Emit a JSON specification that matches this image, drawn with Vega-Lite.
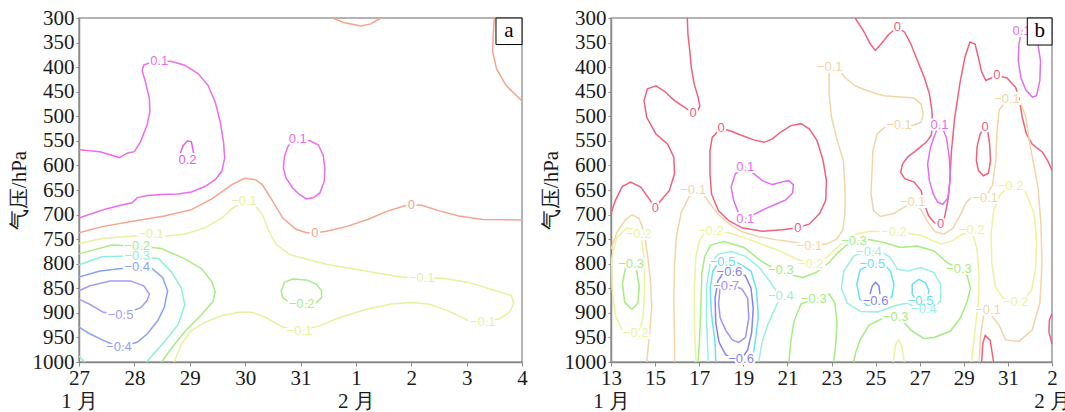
{
"$schema":"https://vega.github.io/schema/vega-lite/v6.json",
"padding":{"left":7,"top":6,"right":0,"bottom":0},
"spacing":11,
"resolve":{"scale":{"color":"independent","x":"independent","y":"independent"}},
"config":{"view":{"stroke":"#9a9a9a","strokeWidth":1.5},"axis":{"grid":false,"domainColor":"#8a8a8a","domainWidth":1.5,"tickColor":"#8a8a8a","labelFont":"Liberation Serif","labelFontSize":21,"labelColor":"#1a1a1a","titleFont":"Liberation Serif","titleFontSize":21,"titleFontWeight":"normal","titleColor":"#1a1a1a","labelFlush":false,"labelOverlap":false,"labelBound":false},"axisY":{"tickCount":15,"labelOverlap":false}},
"datasets":{
"la":[
{"c":"a1","v":"0.1","d":0,"p":568},{"c":"a1","v":"0.1","d":0.38,"p":572},{"c":"a1","v":"0.1","d":0.73,"p":584},{"c":"a1","v":"0.1","d":0.87,"p":575},{"c":"a1","v":"0.1","d":1,"p":572},{"c":"a1","v":"0.1","d":1.11,"p":552},{"c":"a1","v":"0.1","d":1.23,"p":518},{"c":"a1","v":"0.1","d":1.28,"p":491},{"c":"a1","v":"0.1","d":1.27,"p":464},{"c":"a1","v":"0.1","d":1.2,"p":430},{"c":"a1","v":"0.1","d":1.14,"p":407},{"c":"a1","v":"0.1","d":1.17,"p":396},{"c":"a1","v":"0.1","d":1.3,"p":390},{"c":"a1","v":"0.1","d":1.66,"p":388},{"c":"a1","v":"0.1","d":1.91,"p":396},{"c":"a1","v":"0.1","d":2.15,"p":413},{"c":"a1","v":"0.1","d":2.33,"p":437},{"c":"a1","v":"0.1","d":2.46,"p":471},{"c":"a1","v":"0.1","d":2.55,"p":511},{"c":"a1","v":"0.1","d":2.61,"p":552},{"c":"a1","v":"0.1","d":2.63,"p":585},{"c":"a1","v":"0.1","d":2.58,"p":612},{"c":"a1","v":"0.1","d":2.46,"p":629},{"c":"a1","v":"0.1","d":2.27,"p":643},{"c":"a1","v":"0.1","d":2.03,"p":654},{"c":"a1","v":"0.1","d":1.78,"p":658},{"c":"a1","v":"0.1","d":1.48,"p":659},{"c":"a1","v":"0.1","d":1.23,"p":661},{"c":"a1","v":"0.1","d":1.05,"p":666},{"c":"a1","v":"0.1","d":0.96,"p":676},{"c":"a1","v":"0.1","d":0.75,"p":681},{"c":"a1","v":"0.1","d":0.44,"p":690},{"c":"a1","v":"0.1","d":0,"p":707},
{"c":"a2","v":"0.2","d":1.83,"p":575},{"c":"a2","v":"0.2","d":1.88,"p":560},{"c":"a2","v":"0.2","d":1.96,"p":550},{"c":"a2","v":"0.2","d":2.03,"p":552},{"c":"a2","v":"0.2","d":2.07,"p":575},
{"c":"a3","v":"0.1","d":3.86,"p":548},{"c":"a3","v":"0.1","d":4.17,"p":550},{"c":"a3","v":"0.1","d":4.32,"p":558},{"c":"a3","v":"0.1","d":4.41,"p":579},{"c":"a3","v":"0.1","d":4.44,"p":606},{"c":"a3","v":"0.1","d":4.43,"p":632},{"c":"a3","v":"0.1","d":4.35,"p":656},{"c":"a3","v":"0.1","d":4.23,"p":666},{"c":"a3","v":"0.1","d":4.11,"p":668},{"c":"a3","v":"0.1","d":3.98,"p":659},{"c":"a3","v":"0.1","d":3.86,"p":646},{"c":"a3","v":"0.1","d":3.74,"p":626},{"c":"a3","v":"0.1","d":3.69,"p":605},{"c":"a3","v":"0.1","d":3.71,"p":582},{"c":"a3","v":"0.1","d":3.77,"p":562},{"c":"a3","v":"0.1","d":3.86,"p":548},
{"c":"a4","v":"0","d":0,"p":737},{"c":"a4","v":"0","d":0.44,"p":724},{"c":"a4","v":"0","d":1.05,"p":712},{"c":"a4","v":"0","d":1.54,"p":703},{"c":"a4","v":"0","d":2.03,"p":690},{"c":"a4","v":"0","d":2.4,"p":668},{"c":"a4","v":"0","d":2.76,"p":639},{"c":"a4","v":"0","d":2.99,"p":626},{"c":"a4","v":"0","d":3.19,"p":629},{"c":"a4","v":"0","d":3.31,"p":639},{"c":"a4","v":"0","d":3.5,"p":673},{"c":"a4","v":"0","d":3.68,"p":707},{"c":"a4","v":"0","d":3.92,"p":730},{"c":"a4","v":"0","d":4.11,"p":737},{"c":"a4","v":"0","d":4.26,"p":737},{"c":"a4","v":"0","d":4.47,"p":734},{"c":"a4","v":"0","d":4.84,"p":724},{"c":"a4","v":"0","d":5.21,"p":710},{"c":"a4","v":"0","d":5.57,"p":693},{"c":"a4","v":"0","d":5.88,"p":682},{"c":"a4","v":"0","d":6,"p":680},{"c":"a4","v":"0","d":6.19,"p":681},{"c":"a4","v":"0","d":6.49,"p":692},{"c":"a4","v":"0","d":6.86,"p":703},{"c":"a4","v":"0","d":7.29,"p":710},{"c":"a4","v":"0","d":8,"p":711},
{"c":"a5","v":"0","d":4.58,"p":300},{"c":"a5","v":"0","d":4.78,"p":309},{"c":"a5","v":"0","d":5.09,"p":316},{"c":"a5","v":"0","d":5.27,"p":312},{"c":"a5","v":"0","d":5.42,"p":302},{"c":"a5","v":"0","d":5.45,"p":300},
{"c":"a6","v":"0","d":7.5,"p":300},{"c":"a6","v":"0","d":7.48,"p":336},{"c":"a6","v":"0","d":7.47,"p":369},{"c":"a6","v":"0","d":7.54,"p":403},{"c":"a6","v":"0","d":7.71,"p":437},{"c":"a6","v":"0","d":8,"p":469},
{"c":"a7","v":"-0.1","d":0,"p":759},{"c":"a7","v":"-0.1","d":0.44,"p":748},{"c":"a7","v":"-0.1","d":0.93,"p":744},{"c":"a7","v":"-0.1","d":1.3,"p":740},{"c":"a7","v":"-0.1","d":1.54,"p":744},{"c":"a7","v":"-0.1","d":1.91,"p":740},{"c":"a7","v":"-0.1","d":2.27,"p":727},{"c":"a7","v":"-0.1","d":2.58,"p":707},{"c":"a7","v":"-0.1","d":2.76,"p":688},{"c":"a7","v":"-0.1","d":2.98,"p":673},{"c":"a7","v":"-0.1","d":3.19,"p":683},{"c":"a7","v":"-0.1","d":3.31,"p":700},{"c":"a7","v":"-0.1","d":3.43,"p":734},{"c":"a7","v":"-0.1","d":3.56,"p":761},{"c":"a7","v":"-0.1","d":3.8,"p":781},{"c":"a7","v":"-0.1","d":4.11,"p":791},{"c":"a7","v":"-0.1","d":4.47,"p":801},{"c":"a7","v":"-0.1","d":4.84,"p":808},{"c":"a7","v":"-0.1","d":5.33,"p":818},{"c":"a7","v":"-0.1","d":5.82,"p":827},{"c":"a7","v":"-0.1","d":6.19,"p":830},{"c":"a7","v":"-0.1","d":6.55,"p":829},{"c":"a7","v":"-0.1","d":7.04,"p":838},{"c":"a7","v":"-0.1","d":7.53,"p":855},{"c":"a7","v":"-0.1","d":7.81,"p":865},{"c":"a7","v":"-0.1","d":7.85,"p":882},{"c":"a7","v":"-0.1","d":7.77,"p":899},{"c":"a7","v":"-0.1","d":7.59,"p":912},{"c":"a7","v":"-0.1","d":7.29,"p":919},{"c":"a7","v":"-0.1","d":7.04,"p":916},{"c":"a7","v":"-0.1","d":6.67,"p":896},{"c":"a7","v":"-0.1","d":6.31,"p":882},{"c":"a7","v":"-0.1","d":6,"p":879},{"c":"a7","v":"-0.1","d":5.64,"p":882},{"c":"a7","v":"-0.1","d":5.21,"p":892},{"c":"a7","v":"-0.1","d":4.72,"p":909},{"c":"a7","v":"-0.1","d":4.35,"p":926},{"c":"a7","v":"-0.1","d":3.98,"p":937},{"c":"a7","v":"-0.1","d":3.68,"p":929},{"c":"a7","v":"-0.1","d":3.37,"p":909},{"c":"a7","v":"-0.1","d":3.13,"p":899},{"c":"a7","v":"-0.1","d":2.88,"p":899},{"c":"a7","v":"-0.1","d":2.58,"p":906},{"c":"a7","v":"-0.1","d":2.27,"p":919},{"c":"a7","v":"-0.1","d":2.03,"p":936},{"c":"a7","v":"-0.1","d":1.85,"p":963},{"c":"a7","v":"-0.1","d":1.72,"p":1000},
{"c":"a8","v":"-0.2","d":0,"p":780},{"c":"a8","v":"-0.2","d":0.59,"p":762},{"c":"a8","v":"-0.2","d":1.05,"p":764},{"c":"a8","v":"-0.2","d":1.49,"p":769},{"c":"a8","v":"-0.2","d":1.91,"p":790},{"c":"a8","v":"-0.2","d":2.21,"p":810},{"c":"a8","v":"-0.2","d":2.4,"p":837},{"c":"a8","v":"-0.2","d":2.46,"p":857},{"c":"a8","v":"-0.2","d":2.42,"p":877},{"c":"a8","v":"-0.2","d":2.21,"p":904},{"c":"a8","v":"-0.2","d":1.91,"p":938},{"c":"a8","v":"-0.2","d":1.67,"p":972},{"c":"a8","v":"-0.2","d":1.49,"p":1000},
{"c":"a9","v":"-0.2","d":3.65,"p":855},{"c":"a9","v":"-0.2","d":3.71,"p":838},{"c":"a9","v":"-0.2","d":3.86,"p":831},{"c":"a9","v":"-0.2","d":4.11,"p":833},{"c":"a9","v":"-0.2","d":4.29,"p":842},{"c":"a9","v":"-0.2","d":4.38,"p":855},{"c":"a9","v":"-0.2","d":4.38,"p":869},{"c":"a9","v":"-0.2","d":4.29,"p":879},{"c":"a9","v":"-0.2","d":4.02,"p":882},{"c":"a9","v":"-0.2","d":3.8,"p":879},{"c":"a9","v":"-0.2","d":3.68,"p":869},{"c":"a9","v":"-0.2","d":3.65,"p":855},
{"c":"a10","v":"-0.3","d":0,"p":802},{"c":"a10","v":"-0.3","d":0.41,"p":786},{"c":"a10","v":"-0.3","d":1.05,"p":784},{"c":"a10","v":"-0.3","d":1.44,"p":790},{"c":"a10","v":"-0.3","d":1.67,"p":817},{"c":"a10","v":"-0.3","d":1.85,"p":850},{"c":"a10","v":"-0.3","d":1.91,"p":884},{"c":"a10","v":"-0.3","d":1.79,"p":924},{"c":"a10","v":"-0.3","d":1.55,"p":958},{"c":"a10","v":"-0.3","d":1.22,"p":1000},
{"c":"a11","v":"-0.3","d":0,"p":988},{"c":"a11","v":"-0.3","d":0.1,"p":1000},
{"c":"a12","v":"-0.4","d":0,"p":827},{"c":"a12","v":"-0.4","d":0.38,"p":815},{"c":"a12","v":"-0.4","d":1.05,"p":806},{"c":"a12","v":"-0.4","d":1.3,"p":808},{"c":"a12","v":"-0.4","d":1.51,"p":828},{"c":"a12","v":"-0.4","d":1.6,"p":855},{"c":"a12","v":"-0.4","d":1.54,"p":889},{"c":"a12","v":"-0.4","d":1.42,"p":916},{"c":"a12","v":"-0.4","d":1.23,"p":943},{"c":"a12","v":"-0.4","d":1.05,"p":960},{"c":"a12","v":"-0.4","d":0.72,"p":970},{"c":"a12","v":"-0.4","d":0.44,"p":956},{"c":"a12","v":"-0.4","d":0.2,"p":943},{"c":"a12","v":"-0.4","d":0,"p":929},
{"c":"a13","v":"-0.5","d":0,"p":855},{"c":"a13","v":"-0.5","d":0.2,"p":845},{"c":"a13","v":"-0.5","d":0.56,"p":835},{"c":"a13","v":"-0.5","d":0.93,"p":835},{"c":"a13","v":"-0.5","d":1.17,"p":845},{"c":"a13","v":"-0.5","d":1.27,"p":862},{"c":"a13","v":"-0.5","d":1.23,"p":875},{"c":"a13","v":"-0.5","d":1.11,"p":890},{"c":"a13","v":"-0.5","d":0.75,"p":904},{"c":"a13","v":"-0.5","d":0.44,"p":899},{"c":"a13","v":"-0.5","d":0.2,"p":883},{"c":"a13","v":"-0.5","d":0,"p":872}
],
"ta":[
{"t":"0.1","v":"0.1","d":1.45,"p":388},{"t":"0.1","v":"0.1","d":3.95,"p":547},{"t":"0.2","v":"0.2","d":1.96,"p":589},
{"t":"0","v":"0","d":4.26,"p":737},{"t":"0","v":"0","d":6,"p":680},
{"t":"−0.1","v":"-0.1","d":1.3,"p":740},{"t":"−0.1","v":"-0.1","d":2.98,"p":673},{"t":"−0.1","v":"-0.1","d":6.19,"p":830},{"t":"−0.1","v":"-0.1","d":7.29,"p":919},{"t":"−0.1","v":"-0.1","d":3.98,"p":937},
{"t":"−0.2","v":"-0.2","d":1.05,"p":764},{"t":"−0.2","v":"-0.2","d":4.02,"p":882},
{"t":"−0.3","v":"-0.3","d":1.05,"p":784},
{"t":"−0.4","v":"-0.4","d":1.05,"p":806},{"t":"−0.4","v":"-0.4","d":0.72,"p":970},
{"t":"−0.5","v":"-0.5","d":0.75,"p":904}
],
"lb":[
{"c":"bA","v":"0","d":0,"p":698},{"c":"bA","v":"0","d":0.2,"p":671},{"c":"bA","v":"0","d":0.51,"p":643},{"c":"bA","v":"0","d":0.89,"p":634},{"c":"bA","v":"0","d":1.35,"p":644},{"c":"bA","v":"0","d":1.73,"p":668},{"c":"bA","v":"0","d":2.01,"p":686},{"c":"bA","v":"0","d":2.27,"p":671},{"c":"bA","v":"0","d":2.65,"p":651},{"c":"bA","v":"0","d":2.88,"p":617},{"c":"bA","v":"0","d":2.85,"p":583},{"c":"bA","v":"0","d":2.57,"p":557},{"c":"bA","v":"0","d":2.04,"p":536},{"c":"bA","v":"0","d":1.62,"p":502},{"c":"bA","v":"0","d":1.5,"p":468},{"c":"bA","v":"0","d":1.65,"p":444},{"c":"bA","v":"0","d":2.04,"p":438},{"c":"bA","v":"0","d":2.42,"p":449},{"c":"bA","v":"0","d":2.88,"p":468},{"c":"bA","v":"0","d":3.34,"p":482},{"c":"bA","v":"0","d":3.72,"p":494},{"c":"bA","v":"0","d":3.92,"p":490},{"c":"bA","v":"0","d":4.03,"p":480},{"c":"bA","v":"0","d":3.95,"p":461},{"c":"bA","v":"0","d":3.77,"p":434},{"c":"bA","v":"0","d":3.64,"p":400},{"c":"bA","v":"0","d":3.57,"p":366},{"c":"bA","v":"0","d":3.49,"p":333},{"c":"bA","v":"0","d":3.46,"p":300},
{"c":"bB","v":"0","d":4.99,"p":524},{"c":"bB","v":"0","d":4.59,"p":543},{"c":"bB","v":"0","d":4.49,"p":570},{"c":"bB","v":"0","d":4.49,"p":617},{"c":"bB","v":"0","d":4.56,"p":658},{"c":"bB","v":"0","d":4.87,"p":692},{"c":"bB","v":"0","d":5.33,"p":712},{"c":"bB","v":"0","d":5.94,"p":727},{"c":"bB","v":"0","d":6.86,"p":734},{"c":"bB","v":"0","d":7.78,"p":731},{"c":"bB","v":"0","d":8.47,"p":727},{"c":"bB","v":"0","d":9,"p":719},{"c":"bB","v":"0","d":9.46,"p":698},{"c":"bB","v":"0","d":9.74,"p":671},{"c":"bB","v":"0","d":9.77,"p":631},{"c":"bB","v":"0","d":9.62,"p":590},{"c":"bB","v":"0","d":9.34,"p":549},{"c":"bB","v":"0","d":9,"p":526},{"c":"bB","v":"0","d":8.62,"p":515},{"c":"bB","v":"0","d":8.16,"p":519},{"c":"bB","v":"0","d":7.7,"p":532},{"c":"bB","v":"0","d":7.32,"p":546},{"c":"bB","v":"0","d":6.94,"p":553},{"c":"bB","v":"0","d":6.48,"p":548},{"c":"bB","v":"0","d":5.94,"p":539},{"c":"bB","v":"0","d":5.48,"p":531},{"c":"bB","v":"0","d":4.99,"p":524},
{"c":"bC","v":"0","d":11.07,"p":300},{"c":"bC","v":"0","d":11.45,"p":326},{"c":"bC","v":"0","d":11.76,"p":353},{"c":"bC","v":"0","d":11.99,"p":366},{"c":"bC","v":"0","d":12.25,"p":353},{"c":"bC","v":"0","d":12.6,"p":333},{"c":"bC","v":"0","d":12.99,"p":319},{"c":"bC","v":"0","d":13.32,"p":329},{"c":"bC","v":"0","d":13.6,"p":353},{"c":"bC","v":"0","d":13.9,"p":387},{"c":"bC","v":"0","d":14.21,"p":421},{"c":"bC","v":"0","d":14.44,"p":454},{"c":"bC","v":"0","d":14.55,"p":488},{"c":"bC","v":"0","d":14.59,"p":519},{"c":"bC","v":"0","d":14.52,"p":539},{"c":"bC","v":"0","d":14.29,"p":553},{"c":"bC","v":"0","d":13.83,"p":570},{"c":"bC","v":"0","d":13.45,"p":583},{"c":"bC","v":"0","d":13.22,"p":597},{"c":"bC","v":"0","d":13.14,"p":614},{"c":"bC","v":"0","d":13.32,"p":627},{"c":"bC","v":"0","d":13.75,"p":634},{"c":"bC","v":"0","d":14.06,"p":651},{"c":"bC","v":"0","d":14.21,"p":678},{"c":"bC","v":"0","d":14.4,"p":702},{"c":"bC","v":"0","d":14.67,"p":717},{"c":"bC","v":"0","d":14.95,"p":720},{"c":"bC","v":"0","d":15.13,"p":705},{"c":"bC","v":"0","d":15.28,"p":671},{"c":"bC","v":"0","d":15.36,"p":637},{"c":"bC","v":"0","d":15.44,"p":570},{"c":"bC","v":"0","d":15.59,"p":502},{"c":"bC","v":"0","d":15.82,"p":434},{"c":"bC","v":"0","d":16.05,"p":380},{"c":"bC","v":"0","d":16.28,"p":349},{"c":"bC","v":"0","d":16.51,"p":353},{"c":"bC","v":"0","d":16.66,"p":380},{"c":"bC","v":"0","d":16.81,"p":410},{"c":"bC","v":"0","d":17,"p":427},{"c":"bC","v":"0","d":17.5,"p":417},{"c":"bC","v":"0","d":17.96,"p":422},{"c":"bC","v":"0","d":18.35,"p":441},{"c":"bC","v":"0","d":18.53,"p":468},{"c":"bC","v":"0","d":18.65,"p":502},{"c":"bC","v":"0","d":18.84,"p":536},{"c":"bC","v":"0","d":19.11,"p":557},{"c":"bC","v":"0","d":19.57,"p":573},{"c":"bC","v":"0","d":19.8,"p":590},{"c":"bC","v":"0","d":20,"p":610},
{"c":"bD","v":"0","d":16.97,"p":521},{"c":"bD","v":"0","d":16.74,"p":536},{"c":"bD","v":"0","d":16.6,"p":563},{"c":"bD","v":"0","d":16.57,"p":590},{"c":"bD","v":"0","d":16.66,"p":610},{"c":"bD","v":"0","d":16.89,"p":621},{"c":"bD","v":"0","d":17.12,"p":616},{"c":"bD","v":"0","d":17.21,"p":590},{"c":"bD","v":"0","d":17.17,"p":556},{"c":"bD","v":"0","d":17.09,"p":532},{"c":"bD","v":"0","d":16.97,"p":521},
{"c":"bE","v":"0","d":20,"p":902},{"c":"bE","v":"0","d":19.88,"p":915},{"c":"bE","v":"0","d":19.86,"p":939},{"c":"bE","v":"0","d":20,"p":963},
{"c":"bF","v":"0","d":16.81,"p":1000},{"c":"bF","v":"0","d":16.86,"p":963},{"c":"bF","v":"0","d":16.97,"p":946},{"c":"bF","v":"0","d":17.2,"p":956},{"c":"bF","v":"0","d":17.35,"p":1000},
{"c":"bG","v":"0.1","d":6.09,"p":604},{"c":"bG","v":"0.1","d":5.64,"p":617},{"c":"bG","v":"0.1","d":5.45,"p":644},{"c":"bG","v":"0.1","d":5.56,"p":671},{"c":"bG","v":"0.1","d":5.79,"p":698},{"c":"bG","v":"0.1","d":6.09,"p":709},{"c":"bG","v":"0.1","d":6.55,"p":698},{"c":"bG","v":"0.1","d":7.01,"p":688},{"c":"bG","v":"0.1","d":7.47,"p":679},{"c":"bG","v":"0.1","d":7.93,"p":670},{"c":"bG","v":"0.1","d":8.24,"p":656},{"c":"bG","v":"0.1","d":8.27,"p":639},{"c":"bG","v":"0.1","d":8.06,"p":631},{"c":"bG","v":"0.1","d":7.7,"p":634},{"c":"bG","v":"0.1","d":7.32,"p":639},{"c":"bG","v":"0.1","d":6.86,"p":631},{"c":"bG","v":"0.1","d":6.4,"p":614},{"c":"bG","v":"0.1","d":6.09,"p":604},
{"c":"bH","v":"0.1","d":14.9,"p":517},{"c":"bH","v":"0.1","d":14.7,"p":536},{"c":"bH","v":"0.1","d":14.49,"p":563},{"c":"bH","v":"0.1","d":14.36,"p":597},{"c":"bH","v":"0.1","d":14.44,"p":631},{"c":"bH","v":"0.1","d":14.61,"p":658},{"c":"bH","v":"0.1","d":14.82,"p":675},{"c":"bH","v":"0.1","d":15.05,"p":679},{"c":"bH","v":"0.1","d":15.28,"p":666},{"c":"bH","v":"0.1","d":15.39,"p":624},{"c":"bH","v":"0.1","d":15.34,"p":583},{"c":"bH","v":"0.1","d":15.21,"p":543},{"c":"bH","v":"0.1","d":15.05,"p":526},{"c":"bH","v":"0.1","d":14.9,"p":517},
{"c":"bI","v":"0.1","d":18.62,"p":326},{"c":"bI","v":"0.1","d":18.5,"p":353},{"c":"bI","v":"0.1","d":18.47,"p":387},{"c":"bI","v":"0.1","d":18.59,"p":421},{"c":"bI","v":"0.1","d":18.81,"p":446},{"c":"bI","v":"0.1","d":19.11,"p":461},{"c":"bI","v":"0.1","d":19.3,"p":458},{"c":"bI","v":"0.1","d":19.45,"p":427},{"c":"bI","v":"0.1","d":19.48,"p":387},{"c":"bI","v":"0.1","d":19.36,"p":353},{"c":"bI","v":"0.1","d":19.11,"p":333},{"c":"bI","v":"0.1","d":18.81,"p":324},{"c":"bI","v":"0.1","d":18.62,"p":326},
{"c":"bJ","v":"-0.1","d":0,"p":770},{"c":"bJ","v":"-0.1","d":0.28,"p":735},{"c":"bJ","v":"-0.1","d":0.66,"p":710},{"c":"bJ","v":"-0.1","d":0.96,"p":700},{"c":"bJ","v":"-0.1","d":1.27,"p":708},{"c":"bJ","v":"-0.1","d":1.5,"p":735},{"c":"bJ","v":"-0.1","d":1.68,"p":790},{"c":"bJ","v":"-0.1","d":1.8,"p":841},{"c":"bJ","v":"-0.1","d":1.85,"p":888},{"c":"bJ","v":"-0.1","d":1.75,"p":942},{"c":"bJ","v":"-0.1","d":1.62,"p":1000},
{"c":"bK","v":"-0.1","d":2.88,"p":1000},{"c":"bK","v":"-0.1","d":2.88,"p":942},{"c":"bK","v":"-0.1","d":2.85,"p":875},{"c":"bK","v":"-0.1","d":2.88,"p":807},{"c":"bK","v":"-0.1","d":2.96,"p":746},{"c":"bK","v":"-0.1","d":3.19,"p":695},{"c":"bK","v":"-0.1","d":3.49,"p":668},{"c":"bK","v":"-0.1","d":3.72,"p":651},{"c":"bK","v":"-0.1","d":4.18,"p":658},{"c":"bK","v":"-0.1","d":4.49,"p":678},{"c":"bK","v":"-0.1","d":4.87,"p":700},{"c":"bK","v":"-0.1","d":5.33,"p":718},{"c":"bK","v":"-0.1","d":5.94,"p":735},{"c":"bK","v":"-0.1","d":6.71,"p":745},{"c":"bK","v":"-0.1","d":7.47,"p":751},{"c":"bK","v":"-0.1","d":8.24,"p":756},{"c":"bK","v":"-0.1","d":9,"p":763},{"c":"bK","v":"-0.1","d":9.77,"p":760},{"c":"bK","v":"-0.1","d":10.23,"p":750},{"c":"bK","v":"-0.1","d":10.51,"p":732},{"c":"bK","v":"-0.1","d":10.61,"p":698},{"c":"bK","v":"-0.1","d":10.61,"p":644},{"c":"bK","v":"-0.1","d":10.54,"p":590},{"c":"bK","v":"-0.1","d":10.26,"p":549},{"c":"bK","v":"-0.1","d":10,"p":502},{"c":"bK","v":"-0.1","d":9.89,"p":454},{"c":"bK","v":"-0.1","d":9.89,"p":421},{"c":"bK","v":"-0.1","d":9.92,"p":400},{"c":"bK","v":"-0.1","d":10.31,"p":404},{"c":"bK","v":"-0.1","d":10.61,"p":421},{"c":"bK","v":"-0.1","d":11.07,"p":438},{"c":"bK","v":"-0.1","d":11.68,"p":449},{"c":"bK","v":"-0.1","d":12.37,"p":458},{"c":"bK","v":"-0.1","d":13.14,"p":461},{"c":"bK","v":"-0.1","d":13.75,"p":463},{"c":"bK","v":"-0.1","d":14.06,"p":475},{"c":"bK","v":"-0.1","d":14.16,"p":495},{"c":"bK","v":"-0.1","d":14.06,"p":512},{"c":"bK","v":"-0.1","d":13.68,"p":519},{"c":"bK","v":"-0.1","d":13.06,"p":518},{"c":"bK","v":"-0.1","d":12.45,"p":521},{"c":"bK","v":"-0.1","d":12.07,"p":536},{"c":"bK","v":"-0.1","d":11.88,"p":570},{"c":"bK","v":"-0.1","d":11.84,"p":610},{"c":"bK","v":"-0.1","d":11.79,"p":658},{"c":"bK","v":"-0.1","d":11.91,"p":692},{"c":"bK","v":"-0.1","d":12.22,"p":704},{"c":"bK","v":"-0.1","d":12.83,"p":698},{"c":"bK","v":"-0.1","d":13.45,"p":681},{"c":"bK","v":"-0.1","d":13.68,"p":675},{"c":"bK","v":"-0.1","d":14.06,"p":690},{"c":"bK","v":"-0.1","d":14.36,"p":715},{"c":"bK","v":"-0.1","d":14.7,"p":735},{"c":"bK","v":"-0.1","d":15.1,"p":740},{"c":"bK","v":"-0.1","d":15.5,"p":728},{"c":"bK","v":"-0.1","d":15.85,"p":700},{"c":"bK","v":"-0.1","d":16.1,"p":676},{"c":"bK","v":"-0.1","d":16.36,"p":664},{"c":"bK","v":"-0.1","d":16.97,"p":666},{"c":"bK","v":"-0.1","d":17.3,"p":640},{"c":"bK","v":"-0.1","d":17.45,"p":590},{"c":"bK","v":"-0.1","d":17.5,"p":536},{"c":"bK","v":"-0.1","d":17.6,"p":488},{"c":"bK","v":"-0.1","d":17.96,"p":465},{"c":"bK","v":"-0.1","d":18.55,"p":469},{"c":"bK","v":"-0.1","d":18.82,"p":503},{"c":"bK","v":"-0.1","d":19,"p":558},{"c":"bK","v":"-0.1","d":19.23,"p":611},{"c":"bK","v":"-0.1","d":19.37,"p":646},{"c":"bK","v":"-0.1","d":19.5,"p":720},{"c":"bK","v":"-0.1","d":19.55,"p":800},{"c":"bK","v":"-0.1","d":19.45,"p":880},{"c":"bK","v":"-0.1","d":19.1,"p":935},{"c":"bK","v":"-0.1","d":18.5,"p":958},{"c":"bK","v":"-0.1","d":17.9,"p":955},{"c":"bK","v":"-0.1","d":17.6,"p":925},{"c":"bK","v":"-0.1","d":17.1,"p":895},{"c":"bK","v":"-0.1","d":16.9,"p":905},{"c":"bK","v":"-0.1","d":16.75,"p":950},{"c":"bK","v":"-0.1","d":16.7,"p":1000},
{"c":"bL","v":"-0.2","d":0.03,"p":790},{"c":"bL","v":"-0.2","d":0.25,"p":748},{"c":"bL","v":"-0.2","d":0.7,"p":728},{"c":"bL","v":"-0.2","d":1.1,"p":730},{"c":"bL","v":"-0.2","d":1.4,"p":752},{"c":"bL","v":"-0.2","d":1.52,"p":800},{"c":"bL","v":"-0.2","d":1.52,"p":860},{"c":"bL","v":"-0.2","d":1.45,"p":910},{"c":"bL","v":"-0.2","d":1.3,"p":935},{"c":"bL","v":"-0.2","d":0.95,"p":945},{"c":"bL","v":"-0.2","d":0.5,"p":935},{"c":"bL","v":"-0.2","d":0.2,"p":905},{"c":"bL","v":"-0.2","d":0.05,"p":850},{"c":"bL","v":"-0.2","d":0.03,"p":790},
{"c":"bM","v":"-0.3","d":0.91,"p":800},{"c":"bM","v":"-0.3","d":1.15,"p":812},{"c":"bM","v":"-0.3","d":1.28,"p":845},{"c":"bM","v":"-0.3","d":1.22,"p":880},{"c":"bM","v":"-0.3","d":0.95,"p":893},{"c":"bM","v":"-0.3","d":0.62,"p":878},{"c":"bM","v":"-0.3","d":0.52,"p":840},{"c":"bM","v":"-0.3","d":0.65,"p":810},{"c":"bM","v":"-0.3","d":0.91,"p":800},
{"c":"bN","v":"-0.2","d":3.85,"p":1000},{"c":"bN","v":"-0.2","d":3.78,"p":921},{"c":"bN","v":"-0.2","d":3.78,"p":853},{"c":"bN","v":"-0.2","d":3.85,"p":786},{"c":"bN","v":"-0.2","d":4,"p":755},{"c":"bN","v":"-0.2","d":4.2,"p":740},{"c":"bN","v":"-0.2","d":4.52,"p":733},{"c":"bN","v":"-0.2","d":5.43,"p":738},{"c":"bN","v":"-0.2","d":6.18,"p":749},{"c":"bN","v":"-0.2","d":6.94,"p":762},{"c":"bN","v":"-0.2","d":7.7,"p":775},{"c":"bN","v":"-0.2","d":8.45,"p":791},{"c":"bN","v":"-0.2","d":9.06,"p":801},{"c":"bN","v":"-0.2","d":9.77,"p":788},{"c":"bN","v":"-0.2","d":10.23,"p":768},{"c":"bN","v":"-0.2","d":10.69,"p":749},{"c":"bN","v":"-0.2","d":11.15,"p":739},{"c":"bN","v":"-0.2","d":11.76,"p":734},{"c":"bN","v":"-0.2","d":12.83,"p":736},{"c":"bN","v":"-0.2","d":13.45,"p":738},{"c":"bN","v":"-0.2","d":14.06,"p":742},{"c":"bN","v":"-0.2","d":14.52,"p":752},{"c":"bN","v":"-0.2","d":14.98,"p":760},{"c":"bN","v":"-0.2","d":15.44,"p":754},{"c":"bN","v":"-0.2","d":15.9,"p":741},{"c":"bN","v":"-0.2","d":16.36,"p":732},{"c":"bN","v":"-0.2","d":16.6,"p":770},{"c":"bN","v":"-0.2","d":16.7,"p":830},{"c":"bN","v":"-0.2","d":16.65,"p":880},{"c":"bN","v":"-0.2","d":16.5,"p":940},{"c":"bN","v":"-0.2","d":16.35,"p":1000},
{"c":"bO","v":"-0.2","d":18.12,"p":641},{"c":"bO","v":"-0.2","d":18.81,"p":654},{"c":"bO","v":"-0.2","d":19.19,"p":698},{"c":"bO","v":"-0.2","d":19.3,"p":753},{"c":"bO","v":"-0.2","d":19.26,"p":807},{"c":"bO","v":"-0.2","d":19.08,"p":854},{"c":"bO","v":"-0.2","d":18.65,"p":875},{"c":"bO","v":"-0.2","d":18.35,"p":878},{"c":"bO","v":"-0.2","d":17.81,"p":871},{"c":"bO","v":"-0.2","d":17.43,"p":847},{"c":"bO","v":"-0.2","d":17.27,"p":800},{"c":"bO","v":"-0.2","d":17.24,"p":739},{"c":"bO","v":"-0.2","d":17.35,"p":692},{"c":"bO","v":"-0.2","d":17.66,"p":658},{"c":"bO","v":"-0.2","d":18.12,"p":641},
{"c":"bP","v":"-0.2","d":12.8,"p":1000},{"c":"bP","v":"-0.2","d":12.9,"p":965},{"c":"bP","v":"-0.2","d":13.05,"p":955},{"c":"bP","v":"-0.2","d":13.2,"p":970},{"c":"bP","v":"-0.2","d":13.3,"p":1000},
{"c":"bQ","v":"-0.3","d":3.95,"p":1000},{"c":"bQ","v":"-0.3","d":4.03,"p":942},{"c":"bQ","v":"-0.3","d":4.08,"p":880},{"c":"bQ","v":"-0.3","d":4.12,"p":820},{"c":"bQ","v":"-0.3","d":4.25,"p":785},{"c":"bQ","v":"-0.3","d":4.52,"p":762},{"c":"bQ","v":"-0.3","d":5.12,"p":755},{"c":"bQ","v":"-0.3","d":6.03,"p":767},{"c":"bQ","v":"-0.3","d":6.79,"p":794},{"c":"bQ","v":"-0.3","d":7.54,"p":814},{"c":"bQ","v":"-0.3","d":8.1,"p":822},{"c":"bQ","v":"-0.3","d":8.7,"p":828},{"c":"bQ","v":"-0.3","d":9.3,"p":818},{"c":"bQ","v":"-0.3","d":9.9,"p":797},{"c":"bQ","v":"-0.3","d":10.3,"p":777},{"c":"bQ","v":"-0.3","d":10.7,"p":762},{"c":"bQ","v":"-0.3","d":11.02,"p":754},{"c":"bQ","v":"-0.3","d":11.62,"p":750},{"c":"bQ","v":"-0.3","d":12.38,"p":757},{"c":"bQ","v":"-0.3","d":13.13,"p":767},{"c":"bQ","v":"-0.3","d":13.89,"p":764},{"c":"bQ","v":"-0.3","d":14.65,"p":774},{"c":"bQ","v":"-0.3","d":15.25,"p":798},{"c":"bQ","v":"-0.3","d":15.78,"p":811},{"c":"bQ","v":"-0.3","d":16.16,"p":825},{"c":"bQ","v":"-0.3","d":16.3,"p":850},{"c":"bQ","v":"-0.3","d":16.16,"p":876},{"c":"bQ","v":"-0.3","d":15.85,"p":910},{"c":"bQ","v":"-0.3","d":15.4,"p":937},{"c":"bQ","v":"-0.3","d":14.65,"p":950},{"c":"bQ","v":"-0.3","d":14.19,"p":952},{"c":"bQ","v":"-0.3","d":13.6,"p":935},{"c":"bQ","v":"-0.3","d":13.2,"p":915},{"c":"bQ","v":"-0.3","d":12.91,"p":908},{"c":"bQ","v":"-0.3","d":12.38,"p":910},{"c":"bQ","v":"-0.3","d":11.7,"p":925},{"c":"bQ","v":"-0.3","d":11.3,"p":955},{"c":"bQ","v":"-0.3","d":11.1,"p":980},{"c":"bQ","v":"-0.3","d":11,"p":1000},
{"c":"bR","v":"-0.3","d":8.07,"p":1000},{"c":"bR","v":"-0.3","d":8.16,"p":957},{"c":"bR","v":"-0.3","d":8.3,"p":917},{"c":"bR","v":"-0.3","d":8.62,"p":882},{"c":"bR","v":"-0.3","d":9.2,"p":872},{"c":"bR","v":"-0.3","d":9.9,"p":862},{"c":"bR","v":"-0.3","d":10.15,"p":880},{"c":"bR","v":"-0.3","d":10.25,"p":920},{"c":"bR","v":"-0.3","d":10.2,"p":960},{"c":"bR","v":"-0.3","d":10.1,"p":1000},
{"c":"bS","v":"-0.4","d":4.41,"p":1000},{"c":"bS","v":"-0.4","d":4.33,"p":908},{"c":"bS","v":"-0.4","d":4.35,"p":841},{"c":"bS","v":"-0.4","d":4.5,"p":800},{"c":"bS","v":"-0.4","d":4.87,"p":780},{"c":"bS","v":"-0.4","d":5.48,"p":775},{"c":"bS","v":"-0.4","d":6.09,"p":785},{"c":"bS","v":"-0.4","d":6.71,"p":807},{"c":"bS","v":"-0.4","d":7.17,"p":834},{"c":"bS","v":"-0.4","d":7.47,"p":854},{"c":"bS","v":"-0.4","d":7.7,"p":865},{"c":"bS","v":"-0.4","d":7.45,"p":890},{"c":"bS","v":"-0.4","d":7.1,"p":925},{"c":"bS","v":"-0.4","d":6.85,"p":960},{"c":"bS","v":"-0.4","d":6.7,"p":1000},
{"c":"bT","v":"-0.5","d":4.75,"p":1000},{"c":"bT","v":"-0.5","d":4.72,"p":960},{"c":"bT","v":"-0.5","d":4.55,"p":900},{"c":"bT","v":"-0.5","d":4.5,"p":850},{"c":"bT","v":"-0.5","d":4.62,"p":815},{"c":"bT","v":"-0.5","d":4.85,"p":800},{"c":"bT","v":"-0.5","d":5.06,"p":796},{"c":"bT","v":"-0.5","d":5.74,"p":798},{"c":"bT","v":"-0.5","d":6.35,"p":815},{"c":"bT","v":"-0.5","d":6.6,"p":853},{"c":"bT","v":"-0.5","d":6.68,"p":908},{"c":"bT","v":"-0.5","d":6.55,"p":955},{"c":"bT","v":"-0.5","d":6.4,"p":1000},
{"c":"bU","v":"-0.6","d":5.37,"p":816},{"c":"bU","v":"-0.6","d":5.1,"p":818},{"c":"bU","v":"-0.6","d":4.85,"p":835},{"c":"bU","v":"-0.6","d":4.72,"p":870},{"c":"bU","v":"-0.6","d":4.75,"p":920},{"c":"bU","v":"-0.6","d":4.9,"p":960},{"c":"bU","v":"-0.6","d":5.2,"p":985},{"c":"bU","v":"-0.6","d":5.6,"p":995},{"c":"bU","v":"-0.6","d":5.95,"p":992},{"c":"bU","v":"-0.6","d":6.2,"p":975},{"c":"bU","v":"-0.6","d":6.38,"p":940},{"c":"bU","v":"-0.6","d":6.45,"p":890},{"c":"bU","v":"-0.6","d":6.35,"p":850},{"c":"bU","v":"-0.6","d":6.1,"p":825},{"c":"bU","v":"-0.6","d":5.7,"p":815},{"c":"bU","v":"-0.6","d":5.37,"p":816},
{"c":"bV","v":"-0.7","d":4.95,"p":850},{"c":"bV","v":"-0.7","d":4.88,"p":880},{"c":"bV","v":"-0.7","d":4.95,"p":910},{"c":"bV","v":"-0.7","d":5.2,"p":935},{"c":"bV","v":"-0.7","d":5.5,"p":955},{"c":"bV","v":"-0.7","d":5.8,"p":960},{"c":"bV","v":"-0.7","d":6.1,"p":950},{"c":"bV","v":"-0.7","d":6.25,"p":910},{"c":"bV","v":"-0.7","d":6.2,"p":870},{"c":"bV","v":"-0.7","d":5.95,"p":852},{"c":"bV","v":"-0.7","d":5.6,"p":845},{"c":"bV","v":"-0.7","d":5.22,"p":845},{"c":"bV","v":"-0.7","d":4.95,"p":850},
{"c":"bW","v":"-0.4","d":11.02,"p":784},{"c":"bW","v":"-0.4","d":10.56,"p":815},{"c":"bW","v":"-0.4","d":10.45,"p":849},{"c":"bW","v":"-0.4","d":10.71,"p":880},{"c":"bW","v":"-0.4","d":11.32,"p":897},{"c":"bW","v":"-0.4","d":12.08,"p":898},{"c":"bW","v":"-0.4","d":12.91,"p":885},{"c":"bW","v":"-0.4","d":13.44,"p":880},{"c":"bW","v":"-0.4","d":13.96,"p":893},{"c":"bW","v":"-0.4","d":14.57,"p":890},{"c":"bW","v":"-0.4","d":14.95,"p":876},{"c":"bW","v":"-0.4","d":14.95,"p":842},{"c":"bW","v":"-0.4","d":14.65,"p":818},{"c":"bW","v":"-0.4","d":14.04,"p":808},{"c":"bW","v":"-0.4","d":13.44,"p":815},{"c":"bW","v":"-0.4","d":12.98,"p":811},{"c":"bW","v":"-0.4","d":12.68,"p":788},{"c":"bW","v":"-0.4","d":12.23,"p":774},{"c":"bW","v":"-0.4","d":11.62,"p":774},{"c":"bW","v":"-0.4","d":11.02,"p":784},
{"c":"bX","v":"-0.5","d":11.3,"p":812},{"c":"bX","v":"-0.5","d":11.15,"p":842},{"c":"bX","v":"-0.5","d":11.28,"p":872},{"c":"bX","v":"-0.5","d":11.62,"p":885},{"c":"bX","v":"-0.5","d":12.38,"p":882},{"c":"bX","v":"-0.5","d":12.75,"p":866},{"c":"bX","v":"-0.5","d":12.83,"p":842},{"c":"bX","v":"-0.5","d":12.68,"p":815},{"c":"bX","v":"-0.5","d":12.38,"p":801},{"c":"bX","v":"-0.5","d":11.85,"p":801},{"c":"bX","v":"-0.5","d":11.3,"p":812},
{"c":"bY","v":"-0.5","d":13.66,"p":862},{"c":"bY","v":"-0.5","d":13.66,"p":842},{"c":"bY","v":"-0.5","d":13.96,"p":832},{"c":"bY","v":"-0.5","d":14.27,"p":839},{"c":"bY","v":"-0.5","d":14.42,"p":855},{"c":"bY","v":"-0.5","d":14.34,"p":872},{"c":"bY","v":"-0.5","d":14.04,"p":876},{"c":"bY","v":"-0.5","d":13.8,"p":872},{"c":"bY","v":"-0.5","d":13.66,"p":862},
{"c":"bZ","v":"-0.6","d":11.75,"p":862},{"c":"bZ","v":"-0.6","d":11.85,"p":845},{"c":"bZ","v":"-0.6","d":12,"p":838},{"c":"bZ","v":"-0.6","d":12.15,"p":845},{"c":"bZ","v":"-0.6","d":12.2,"p":862}
],
"tb":[
{"t":"0","v":"0","d":3.72,"p":494},{"t":"0","v":"0","d":2.01,"p":686},{"t":"0","v":"0","d":4.99,"p":524},{"t":"0","v":"0","d":8.47,"p":727},{"t":"0","v":"0","d":12.99,"p":319},{"t":"0","v":"0","d":14.95,"p":720},{"t":"0","v":"0","d":17.5,"p":417},{"t":"0","v":"0","d":16.97,"p":521},
{"t":"0.1","v":"0.1","d":6.09,"p":604},{"t":"0.1","v":"0.1","d":6.09,"p":709},{"t":"0.1","v":"0.1","d":14.9,"p":517},{"t":"0.1","v":"0.1","d":18.62,"p":326},
{"t":"−0.1","v":"-0.1","d":3.72,"p":651},{"t":"−0.1","v":"-0.1","d":9,"p":763},{"t":"−0.1","v":"-0.1","d":9.92,"p":400},{"t":"−0.1","v":"-0.1","d":13.06,"p":518},{"t":"−0.1","v":"-0.1","d":13.68,"p":675},{"t":"−0.1","v":"-0.1","d":16.97,"p":666},{"t":"−0.1","v":"-0.1","d":17.96,"p":465},{"t":"−0.1","v":"-0.1","d":17.1,"p":895},
{"t":"−0.2","v":"-0.2","d":1.25,"p":740},{"t":"−0.2","v":"-0.2","d":1.12,"p":940},{"t":"−0.2","v":"-0.2","d":4.52,"p":733},{"t":"−0.2","v":"-0.2","d":9.06,"p":801},{"t":"−0.2","v":"-0.2","d":12.83,"p":736},{"t":"−0.2","v":"-0.2","d":16.36,"p":732},{"t":"−0.2","v":"-0.2","d":18.12,"p":641},{"t":"−0.2","v":"-0.2","d":18.35,"p":878},
{"t":"−0.3","v":"-0.3","d":0.91,"p":800},{"t":"−0.3","v":"-0.3","d":7.7,"p":812},{"t":"−0.3","v":"-0.3","d":9.2,"p":872},{"t":"−0.3","v":"-0.3","d":11.02,"p":754},{"t":"−0.3","v":"-0.3","d":15.78,"p":811},{"t":"−0.3","v":"-0.3","d":12.91,"p":908},
{"t":"−0.4","v":"-0.4","d":7.7,"p":865},{"t":"−0.4","v":"-0.4","d":11.7,"p":776},{"t":"−0.4","v":"-0.4","d":14.19,"p":892},
{"t":"−0.5","v":"-0.5","d":5.06,"p":796},{"t":"−0.5","v":"-0.5","d":11.85,"p":801},{"t":"−0.5","v":"-0.5","d":14.04,"p":876},
{"t":"−0.6","v":"-0.6","d":5.37,"p":816},{"t":"−0.6","v":"-0.6","d":12,"p":876},{"t":"−0.6","v":"-0.6","d":5.9,"p":993},
{"t":"−0.7","v":"-0.7","d":5.22,"p":845}
]
},
"hconcat":[
{"width":443,"height":344,
"layer":[
{"data":{"name":"la"},"transform":[{"window":[{"op":"row_number","as":"o"}]}],"mark":{"type":"line","strokeWidth":1.5},
"encoding":{
"x":{"field":"d","type":"quantitative","scale":{"domain":[0,8],"nice":false,"zero":false},"axis":{"values":[0,1,2,3,4,5,6,7,8],"labelExpr":"datum.value==0 ? ['27','1 月'] : datum.value==5 ? ['1','2 月'] : datum.value<5 ? ''+(datum.value+27) : ''+(datum.value-4)","title":null,"tickSize":4,"labelPadding":1,"labelLineHeight":23,"labelOverlap":false,"labelFlush":false}},
"y":{"field":"p","type":"quantitative","scale":{"domain":[300,1000],"reverse":true,"nice":false,"zero":false},"axis":{"values":[300,350,400,450,500,550,600,650,700,750,800,850,900,950,1000],"tickCount":15,"format":"d","title":"气压/hPa","tickSize":3,"labelPadding":2,"titlePadding":3,"labelOverlap":false,"labelFlush":false}},
"color":{"field":"v","type":"nominal","scale":{"domain":["0.2","0.1","0","-0.1","-0.2","-0.3","-0.4","-0.5"],"range":["#e85ce8","#ec6cec","#f5a48c","#e8f09c","#a8ec88","#8ef0d4","#8aa2f2","#a49cf0"]},"legend":null},
"detail":{"field":"c"},
"order":{"field":"o","type":"quantitative"}}},
{"data":{"name":"ta"},"mark":{"type":"text","font":"Liberation Sans","fontSize":13,"fill":"white","stroke":"white","strokeWidth":4},"encoding":{"x":{"field":"d","type":"quantitative","axis":{"values":[0,1,2,3,4,5,6,7,8],"labelExpr":"datum.value==0 ? ['27','1 月'] : datum.value==5 ? ['1','2 月'] : datum.value<5 ? ''+(datum.value+27) : ''+(datum.value-4)","title":null,"tickSize":4,"labelPadding":1,"labelLineHeight":23,"labelOverlap":false,"labelFlush":false}},"y":{"field":"p","type":"quantitative","axis":{"values":[300,350,400,450,500,550,600,650,700,750,800,850,900,950,1000],"tickCount":15,"format":"d","title":"气压/hPa","tickSize":3,"labelPadding":2,"titlePadding":3,"labelOverlap":false,"labelFlush":false}},"text":{"field":"t"}}},
{"data":{"name":"ta"},"mark":{"type":"text","font":"Liberation Sans","fontSize":13},"encoding":{"x":{"field":"d","type":"quantitative","axis":{"values":[0,1,2,3,4,5,6,7,8],"labelExpr":"datum.value==0 ? ['27','1 月'] : datum.value==5 ? ['1','2 月'] : datum.value<5 ? ''+(datum.value+27) : ''+(datum.value-4)","title":null,"tickSize":4,"labelPadding":1,"labelLineHeight":23,"labelOverlap":false,"labelFlush":false}},"y":{"field":"p","type":"quantitative","axis":{"values":[300,350,400,450,500,550,600,650,700,750,800,850,900,950,1000],"tickCount":15,"format":"d","title":"气压/hPa","tickSize":3,"labelPadding":2,"titlePadding":3,"labelOverlap":false,"labelFlush":false}},"text":{"field":"t"},"color":{"field":"v","type":"nominal","legend":null}}},
{"data":{"values":[{"x1":7.53,"x2":8,"y1":300,"y2":354}]},"mark":{"type":"rect","fill":"white","stroke":"black","strokeWidth":1},"encoding":{"x":{"field":"x1","type":"quantitative","axis":{"values":[0,1,2,3,4,5,6,7,8],"labelExpr":"datum.value==0 ? ['27','1 月'] : datum.value==5 ? ['1','2 月'] : datum.value<5 ? ''+(datum.value+27) : ''+(datum.value-4)","title":null,"tickSize":4,"labelPadding":1,"labelLineHeight":23,"labelOverlap":false,"labelFlush":false}},"x2":{"field":"x2"},"y":{"field":"y1","type":"quantitative","axis":{"values":[300,350,400,450,500,550,600,650,700,750,800,850,900,950,1000],"tickCount":15,"format":"d","title":"气压/hPa","tickSize":3,"labelPadding":2,"titlePadding":3,"labelOverlap":false,"labelFlush":false}},"y2":{"field":"y2"}}},
{"data":{"values":[{"xm":7.765,"ym":327,"t":"a"}]},"mark":{"type":"text","font":"Liberation Serif","fontSize":21,"color":"black","baseline":"middle"},"encoding":{"x":{"field":"xm","type":"quantitative","axis":{"values":[0,1,2,3,4,5,6,7,8],"labelExpr":"datum.value==0 ? ['27','1 月'] : datum.value==5 ? ['1','2 月'] : datum.value<5 ? ''+(datum.value+27) : ''+(datum.value-4)","title":null,"tickSize":4,"labelPadding":1,"labelLineHeight":23,"labelOverlap":false,"labelFlush":false}},"y":{"field":"ym","type":"quantitative","axis":{"values":[300,350,400,450,500,550,600,650,700,750,800,850,900,950,1000],"tickCount":15,"format":"d","title":"气压/hPa","tickSize":3,"labelPadding":2,"titlePadding":3,"labelOverlap":false,"labelFlush":false}},"text":{"field":"t"}}}
]},
{"width":441,"height":344,
"layer":[
{"data":{"name":"lb"},"transform":[{"window":[{"op":"row_number","as":"o"}]}],"mark":{"type":"line","strokeWidth":1.5},
"encoding":{
"x":{"field":"d","type":"quantitative","scale":{"domain":[0,20],"nice":false,"zero":false},"axis":{"values":[0,1,2,3,4,5,6,7,8,9,10,11,12,13,14,15,16,17,18,19,20],"tickCount":20,"labelExpr":"datum.value==0 ? ['13','1 月'] : datum.value==20 ? ['2','2 月'] : datum.value%2==1 ? '' : ''+(datum.value+13)","title":null,"tickSize":4,"labelPadding":1,"labelLineHeight":23,"labelOverlap":false,"labelFlush":false}},
"y":{"field":"p","type":"quantitative","scale":{"domain":[300,1000],"reverse":true,"nice":false,"zero":false},"axis":{"values":[300,350,400,450,500,550,600,650,700,750,800,850,900,950,1000],"tickCount":15,"format":"d","title":"气压/hPa","tickSize":3,"labelPadding":2,"titlePadding":3,"labelOverlap":false,"labelFlush":false}},
"color":{"field":"v","type":"nominal","scale":{"domain":["0.1","0","-0.1","-0.2","-0.3","-0.4","-0.5","-0.6","-0.7"],"range":["#e070f0","#f0607e","#f2d4a6","#eef29a","#a6ec80","#98f0e0","#66e2f2","#8484f0","#a094f0"]},"legend":null},
"detail":{"field":"c"},
"order":{"field":"o","type":"quantitative"}}},
{"data":{"name":"tb"},"mark":{"type":"text","font":"Liberation Sans","fontSize":13,"fill":"white","stroke":"white","strokeWidth":4},"encoding":{"x":{"field":"d","type":"quantitative","axis":{"values":[0,1,2,3,4,5,6,7,8,9,10,11,12,13,14,15,16,17,18,19,20],"tickCount":20,"labelExpr":"datum.value==0 ? ['13','1 月'] : datum.value==20 ? ['2','2 月'] : datum.value%2==1 ? '' : ''+(datum.value+13)","title":null,"tickSize":4,"labelPadding":1,"labelLineHeight":23,"labelOverlap":false,"labelFlush":false}},"y":{"field":"p","type":"quantitative","axis":{"values":[300,350,400,450,500,550,600,650,700,750,800,850,900,950,1000],"tickCount":15,"format":"d","title":"气压/hPa","tickSize":3,"labelPadding":2,"titlePadding":3,"labelOverlap":false,"labelFlush":false}},"text":{"field":"t"}}},
{"data":{"name":"tb"},"mark":{"type":"text","font":"Liberation Sans","fontSize":13},"encoding":{"x":{"field":"d","type":"quantitative","axis":{"values":[0,1,2,3,4,5,6,7,8,9,10,11,12,13,14,15,16,17,18,19,20],"tickCount":20,"labelExpr":"datum.value==0 ? ['13','1 月'] : datum.value==20 ? ['2','2 月'] : datum.value%2==1 ? '' : ''+(datum.value+13)","title":null,"tickSize":4,"labelPadding":1,"labelLineHeight":23,"labelOverlap":false,"labelFlush":false}},"y":{"field":"p","type":"quantitative","axis":{"values":[300,350,400,450,500,550,600,650,700,750,800,850,900,950,1000],"tickCount":15,"format":"d","title":"气压/hPa","tickSize":3,"labelPadding":2,"titlePadding":3,"labelOverlap":false,"labelFlush":false}},"text":{"field":"t"},"color":{"field":"v","type":"nominal","legend":null}}},
{"data":{"values":[{"x1":18.88,"x2":20,"y1":300,"y2":355}]},"mark":{"type":"rect","fill":"white","stroke":"black","strokeWidth":1},"encoding":{"x":{"field":"x1","type":"quantitative","axis":{"values":[0,1,2,3,4,5,6,7,8,9,10,11,12,13,14,15,16,17,18,19,20],"tickCount":20,"labelExpr":"datum.value==0 ? ['13','1 月'] : datum.value==20 ? ['2','2 月'] : datum.value%2==1 ? '' : ''+(datum.value+13)","title":null,"tickSize":4,"labelPadding":1,"labelLineHeight":23,"labelOverlap":false,"labelFlush":false}},"x2":{"field":"x2"},"y":{"field":"y1","type":"quantitative","axis":{"values":[300,350,400,450,500,550,600,650,700,750,800,850,900,950,1000],"tickCount":15,"format":"d","title":"气压/hPa","tickSize":3,"labelPadding":2,"titlePadding":3,"labelOverlap":false,"labelFlush":false}},"y2":{"field":"y2"}}},
{"data":{"values":[{"xm":19.44,"ym":327,"t":"b"}]},"mark":{"type":"text","font":"Liberation Serif","fontSize":21,"color":"black","baseline":"middle"},"encoding":{"x":{"field":"xm","type":"quantitative","axis":{"values":[0,1,2,3,4,5,6,7,8,9,10,11,12,13,14,15,16,17,18,19,20],"tickCount":20,"labelExpr":"datum.value==0 ? ['13','1 月'] : datum.value==20 ? ['2','2 月'] : datum.value%2==1 ? '' : ''+(datum.value+13)","title":null,"tickSize":4,"labelPadding":1,"labelLineHeight":23,"labelOverlap":false,"labelFlush":false}},"y":{"field":"ym","type":"quantitative","axis":{"values":[300,350,400,450,500,550,600,650,700,750,800,850,900,950,1000],"tickCount":15,"format":"d","title":"气压/hPa","tickSize":3,"labelPadding":2,"titlePadding":3,"labelOverlap":false,"labelFlush":false}},"text":{"field":"t"}}}
]}
]
}
